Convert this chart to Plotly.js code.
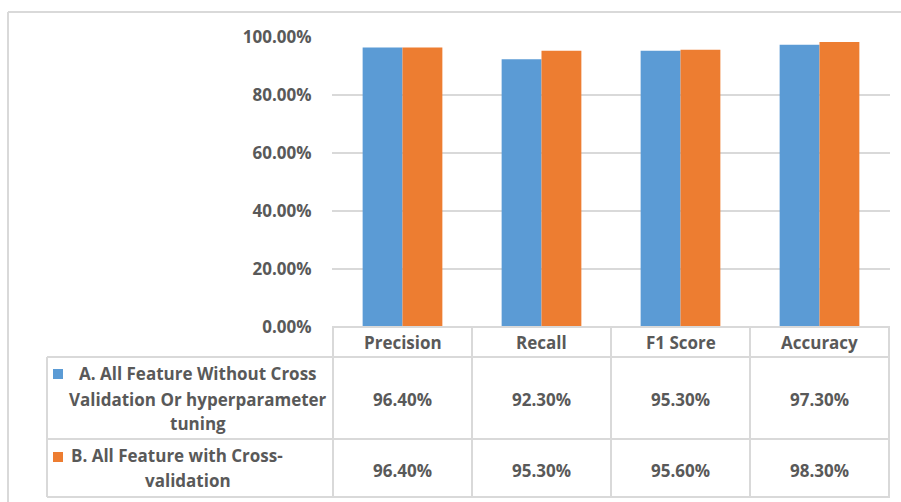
<!DOCTYPE html>
<html>
<head>
<meta charset="utf-8">
<script src="https://cdn.plot.ly/plotly-3.0.1.min.js"></script>
<style>
  html, body { margin: 0; padding: 0; background: #ffffff; }
  #chart { width: 901px; height: 502px; }
</style>
</head>
<body>
<div id="chart"></div>
<script>
// Metric categories and scores (in percent) for the two model setups
const categories = ['Precision', 'Recall', 'F1 Score', 'Accuracy'];
const seriesNames = [
  ['A. All Feature Without Cross', 'Validation Or hyperparameter', 'tuning'],
  ['B. All Feature with Cross-', 'validation']
];
const seriesA = [96.4, 92.3, 95.3, 97.3];
const seriesB = [96.4, 95.3, 95.6, 98.3];
const seriesColors = ['#5b9bd5', '#ed7d31'];
const yTicks = [0, 20, 40, 60, 80, 100];

// Plot-area geometry in pixels
const W = 901, H = 502;
const L = 332, R = 890, T = 37, B = 327;
const pw = R - L, ph = B - T;
const px = v => (v - L) / pw;          // pixel x -> paper x
const py = v => (B - v) / ph;          // pixel y -> paper y

const textColor = '#595959';
const lineColor = '#d9d9d9';
const font = { family: '"Open Sans", "Liberation Sans", sans-serif', size: 17, color: textColor, weight: 700 };

const fmt = v => v.toFixed(2) + '%';

const traces = [
  { type: 'bar', x: categories, y: seriesA, name: seriesNames[0].join(' '),
    marker: { color: seriesColors[0], line: { width: 0 } }, hoverinfo: 'x+y' },
  { type: 'bar', x: categories, y: seriesB, name: seriesNames[1].join(' '),
    marker: { color: seriesColors[1], line: { width: 0 } }, hoverinfo: 'x+y' }
];

const shapes = [];
const annotations = [];

// Outer frame (top and left edges)
shapes.push({ type: 'line', xref: 'paper', yref: 'paper', x0: px(8), x1: px(W + 2), y0: py(12), y1: py(12),
  line: { color: lineColor, width: 2 } });
shapes.push({ type: 'line', xref: 'paper', yref: 'paper', x0: px(8), x1: px(8), y0: py(12), y1: py(H + 2),
  line: { color: lineColor, width: 2 } });

// Data table rows under the axis
const rowLines = [B, 357, 439, 497];
rowLines.forEach((yy, i) => {
  shapes.push({ type: 'line', xref: 'paper', yref: 'paper',
    x0: i === 0 ? 0 : px(47), x1: 1, y0: py(yy), y1: py(yy),
    line: { color: lineColor, width: 2 } });
});
// Column separators at category boundaries
for (let i = 0; i <= categories.length; i++) {
  shapes.push({ type: 'line', xref: 'x', yref: 'paper', x0: i - 0.5, x1: i - 0.5,
    y0: py(B), y1: py(497), line: { color: lineColor, width: 2 } });
}
// Legend column left border
shapes.push({ type: 'line', xref: 'paper', yref: 'paper', x0: px(47), x1: px(47),
  y0: py(357), y1: py(497), line: { color: lineColor, width: 2 } });

// Legend keys
const keyTops = [369, 452];
keyTops.forEach((top, i) => {
  shapes.push({ type: 'rect', xref: 'paper', yref: 'paper', x0: px(53), x1: px(63),
    y0: py(top + 10), y1: py(top), fillcolor: seriesColors[i], line: { width: 0 } });
});

// Legend labels, one annotation per line
const labelLines = [
  [[198, 373], [198, 399], [198, 423]],
  [[177, 456], [188, 480]]
];
seriesNames.forEach((lines, i) => {
  lines.forEach((txt, j) => {
    annotations.push({ xref: 'paper', yref: 'paper', x: px(labelLines[i][j][0]), y: py(labelLines[i][j][1]),
      text: txt, showarrow: false, xanchor: 'center', yanchor: 'middle', font: font });
  });
});

// Header row and value cells
const rowCenters = [399, 470];
categories.forEach((c, k) => {
  annotations.push({ xref: 'x', yref: 'paper', x: c, y: py(342), text: c, showarrow: false,
    xanchor: 'center', yanchor: 'middle', font: font });
  [seriesA, seriesB].forEach((s, i) => {
    annotations.push({ xref: 'x', yref: 'paper', x: c, y: py(rowCenters[i]), text: fmt(s[k]),
      showarrow: false, xanchor: 'center', yanchor: 'middle', font: font });
  });
});

const layout = {
  width: W, height: H,
  margin: { l: L, r: W - R, t: T, b: H - B, pad: 0 },
  paper_bgcolor: '#ffffff', plot_bgcolor: '#ffffff',
  barmode: 'group', bargap: 0.4265, bargroupgap: 0,
  showlegend: false,
  xaxis: { type: 'category', showticklabels: false, ticks: '', showgrid: false,
    zeroline: false, showline: false, fixedrange: true },
  yaxis: { range: [0, 100], tickmode: 'array', tickvals: yTicks, ticktext: yTicks.map(fmt),
    showgrid: true, gridcolor: lineColor, gridwidth: 1.5, zeroline: false, showline: false,
    ticks: 'outside', ticklen: 16, tickcolor: 'rgba(0,0,0,0)', tickfont: font, fixedrange: true },
  shapes: shapes,
  annotations: annotations,
  font: font
};

Plotly.newPlot('chart', traces, layout, { displayModeBar: false, staticPlot: true });
</script>
</body>
</html>
